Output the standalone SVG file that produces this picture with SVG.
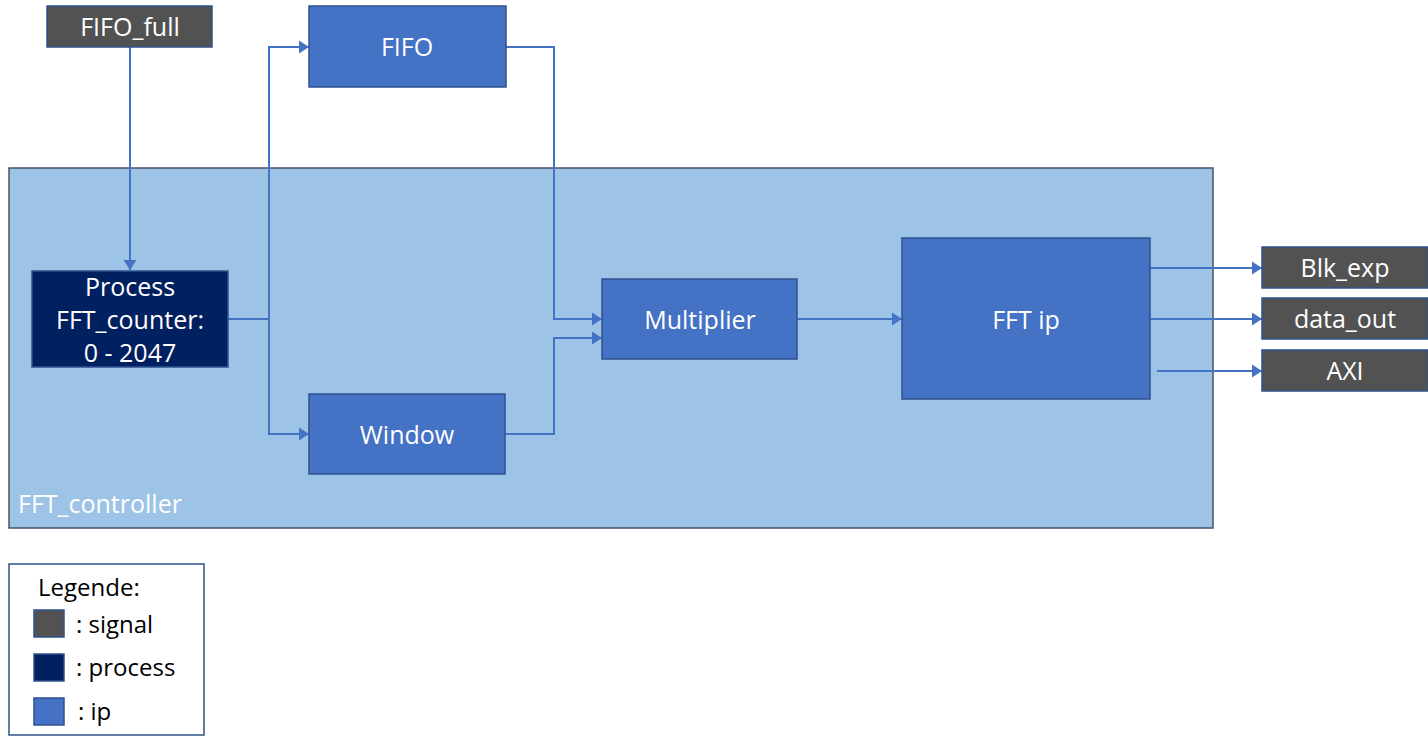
<svg xmlns="http://www.w3.org/2000/svg" width="1428" height="747" viewBox="0 0 1428 747">
<style>
.sig{fill:#525252;stroke:#2F528F;stroke-width:1.5}
.proc{fill:#002060;stroke:#2F528F;stroke-width:1.5}
.ip{fill:#4472C4;stroke:#2F528F;stroke-width:1.5}
.t{font-family:"Open Sans","Noto Sans",sans-serif;font-size:25px;fill:#ffffff;text-anchor:middle}
.lt{font-family:"Open Sans","Noto Sans",sans-serif;font-size:24px;fill:#000000}
.c{fill:none;stroke:#4472C4;stroke-width:2}
</style>
<defs>
<marker id="arr" markerUnits="userSpaceOnUse" markerWidth="14" markerHeight="16" refX="10" refY="7" orient="auto">
<path d="M0,0.5 L10,7 L0,13.5 Z" fill="#4472C4"/>
</marker>
</defs>
<rect width="1428" height="747" fill="#ffffff"/>
<g id="fft_controller">
<rect x="9" y="168" width="1204" height="360" fill="#9DC3E6" stroke="#44546A" stroke-width="1.5"/>
<text x="18" y="513" class="t" style="text-anchor:start">FFT_controller</text>
</g>
<g id="connectors">
<path class="c" d="M130,47 V270" marker-end="url(#arr)"/>
<path class="c" d="M228,319 H269 V47 H309" marker-end="url(#arr)"/>
<path class="c" d="M269,319 V434 H309" marker-end="url(#arr)"/>
<path class="c" d="M506,47 H554 V319 H602" marker-end="url(#arr)"/>
<path class="c" d="M505,434 H554 V338 H602" marker-end="url(#arr)"/>
<path class="c" d="M797,319 H902" marker-end="url(#arr)"/>
<path class="c" d="M1150,268 H1262" marker-end="url(#arr)"/>
<path class="c" d="M1150,319 H1262" marker-end="url(#arr)"/>
<path class="c" d="M1157,371 H1262" marker-end="url(#arr)"/>
</g>
<g id="fifo_full">
<rect class="sig" x="47" y="6" width="165" height="41"/>
<text class="t" x="130" y="36">FIFO_full</text>
</g>
<g id="fifo">
<rect class="ip" x="309" y="6" width="197" height="81"/>
<text class="t" x="407" y="56">FIFO</text>
</g>
<g id="process">
<rect class="proc" x="32" y="271" width="196" height="96"/>
<text class="t" x="130" y="296">Process</text>
<text class="t" x="130" y="329">FFT_counter:</text>
<text class="t" x="130" y="362">0 - 2047</text>
</g>
<g id="window">
<rect class="ip" x="309" y="394" width="196" height="80"/>
<text class="t" x="407" y="444">Window</text>
</g>
<g id="multiplier">
<rect class="ip" x="602" y="279" width="195" height="80"/>
<text class="t" x="700" y="329">Multiplier</text>
</g>
<g id="fft_ip">
<rect class="ip" x="902" y="238" width="248" height="161"/>
<text class="t" x="1026" y="329">FFT ip</text>
</g>
<g id="blk_exp">
<rect class="sig" x="1262" y="247" width="166" height="41"/>
<text class="t" x="1345" y="277">Blk_exp</text>
</g>
<g id="data_out">
<rect class="sig" x="1262" y="298" width="166" height="41"/>
<text class="t" x="1345" y="328">data_out</text>
</g>
<g id="axi">
<rect class="sig" x="1262" y="350" width="166" height="41"/>
<text class="t" x="1345" y="380">AXI</text>
</g>
<g id="legend">
<rect x="9" y="564" width="195" height="171" fill="#ffffff" stroke="#2F528F" stroke-width="1.5"/>
<text class="lt" x="38" y="596">Legende:</text>
<rect class="sig" x="34" y="610" width="30" height="27"/>
<text class="lt" x="76" y="633">: signal</text>
<rect class="proc" x="34" y="654" width="30" height="27"/>
<text class="lt" x="76" y="676">: process</text>
<rect class="ip" x="34" y="698" width="30" height="27"/>
<text class="lt" x="78" y="720">: ip</text>
</g>
</svg>
